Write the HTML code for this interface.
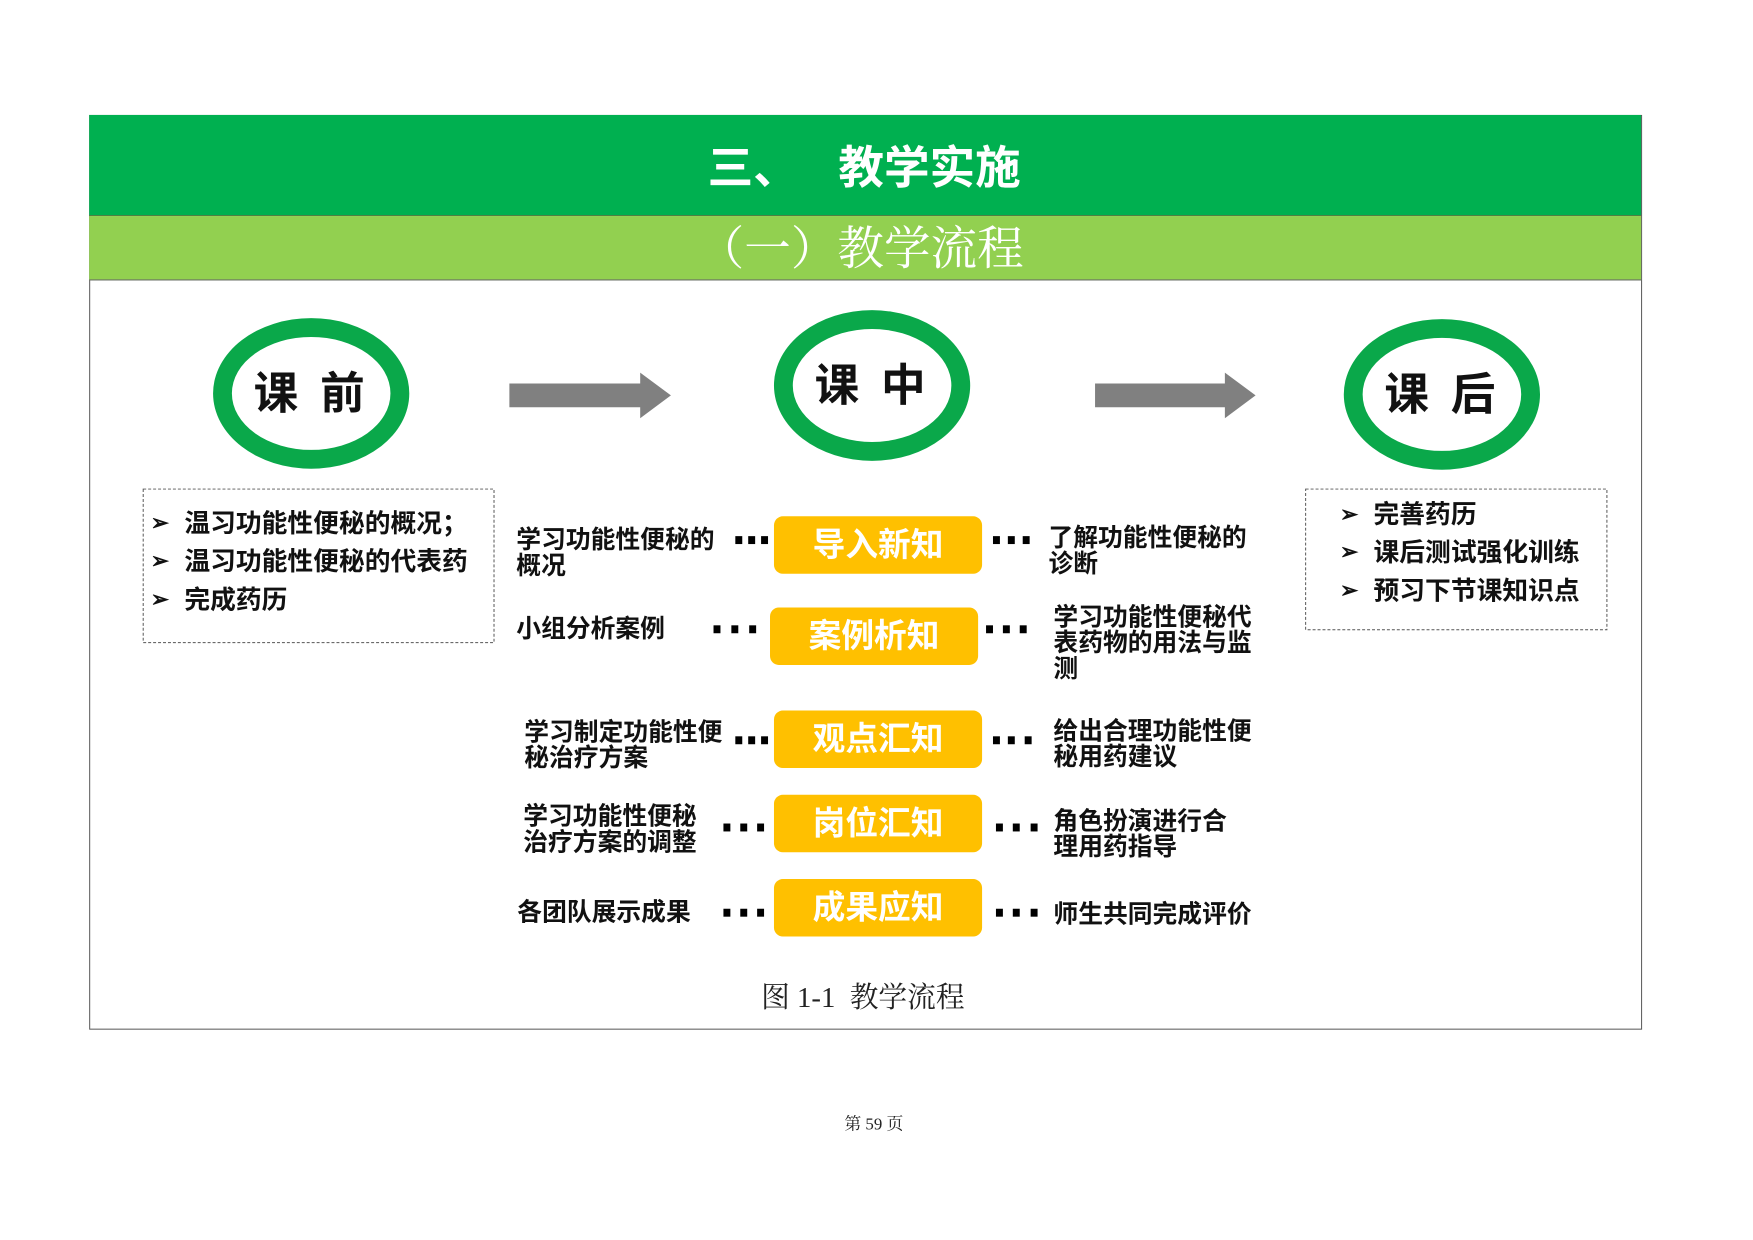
<!DOCTYPE html>
<html><head><meta charset="utf-8"><style>
body{margin:0;width:1753px;height:1240px;background:#fff;position:relative;overflow:hidden;font-family:"Liberation Sans","Noto Sans CJK SC",sans-serif;}
#w{position:absolute;left:0;top:0;width:1753px;height:1240px;transform:scale(0.991);transform-origin:0 0;}
.a{position:absolute;}
.t{position:absolute;white-space:nowrap;font-weight:bold;color:#111;font-size:25px;line-height:26px;}
.yb{position:absolute;width:210px;height:58px;background:#ffc000;border-radius:9px;color:#fff;font-weight:bold;font-size:33px;line-height:58px;text-align:center;}
.dot{position:absolute;width:7px;height:8px;background:#000;}
.ring{position:absolute;width:160px;height:114px;border:19px solid #0aa84a;border-radius:50%;background:#fff;text-align:center;line-height:114px;font-weight:bold;font-size:45px;color:#111;letter-spacing:22px;text-indent:18px;}
</style></head><body><div id="w">
<div class="a" style="left:90px;top:116px;width:1565px;height:921px;border:1px solid #555;"></div>
<div class="a" style="left:90px;top:116px;width:1566px;height:101px;background:#00b050;"></div>
<div class="a" style="left:90px;top:217px;width:1566px;height:1px;background:#4a7a3a;"></div>
<div class="a" style="left:90px;top:218px;width:1566px;height:64px;background:#92d050;border-bottom:1px solid #666;"></div>
<div class="t" style="left:714px;top:142px;font-size:46px;line-height:54px;color:#fff;">三、</div>
<div class="t" style="left:846px;top:142px;font-size:46px;line-height:54px;color:#fff;">教学实施</div>
<div class="t" style="left:704px;top:225px;font-size:47px;line-height:54px;color:#fff;font-weight:normal;font-family:'Liberation Serif','Noto Serif CJK SC',serif;">（一）教学流程</div>

<div class="ring" style="left:215px;top:321px;">课前</div>
<div class="ring" style="left:781px;top:313px;">课中</div>
<div class="ring" style="left:1356px;top:322px;">课后</div>

<svg class="a" style="left:0;top:0" width="1753" height="1240">
<polygon points="514,387 646,387 646,376 677,399 646,422 646,411 514,411" fill="#808080"/>
<polygon points="1105,387 1236,387 1236,376 1267,399 1236,422 1236,411 1105,411" fill="#808080"/>
<rect x="144.5" y="493.5" width="354" height="155" fill="none" stroke="#555" stroke-dasharray="3,2"/>
<rect x="1317.5" y="493.5" width="304" height="142" fill="none" stroke="#555" stroke-dasharray="3,2"/>
</svg>

<div class="t" style="left:152px;top:515px;font-size:22px;">➢</div><div class="t" style="left:186px;top:515px;font-size:26px;">温习功能性便秘的概况；</div>
<div class="t" style="left:152px;top:553px;font-size:22px;">➢</div><div class="t" style="left:186px;top:553px;font-size:26px;">温习功能性便秘的代表药</div>
<div class="t" style="left:152px;top:592px;font-size:22px;">➢</div><div class="t" style="left:186px;top:592px;font-size:26px;">完成药历</div>

<div class="t" style="left:1352px;top:506px;font-size:22px;">➢</div><div class="t" style="left:1386px;top:506px;font-size:26px;">完善药历</div>
<div class="t" style="left:1352px;top:544px;font-size:22px;">➢</div><div class="t" style="left:1386px;top:544px;font-size:26px;">课后测试强化训练</div>
<div class="t" style="left:1352px;top:583px;font-size:22px;">➢</div><div class="t" style="left:1386px;top:583px;font-size:26px;">预习下节课知识点</div>

<div class="yb" style="left:781px;top:521px;">导入新知</div>
<div class="yb" style="left:777px;top:613px;">案例析知</div>
<div class="yb" style="left:781px;top:717px;">观点汇知</div>
<div class="yb" style="left:781px;top:802px;">岗位汇知</div>
<div class="yb" style="left:781px;top:887px;">成果应知</div>

<div class="dot" style="left:742px;top:541px"></div><div class="dot" style="left:755px;top:541px"></div><div class="dot" style="left:768px;top:541px"></div>
<div class="dot" style="left:1002px;top:541px"></div><div class="dot" style="left:1017px;top:541px"></div><div class="dot" style="left:1032px;top:541px"></div>
<div class="dot" style="left:720px;top:631px"></div><div class="dot" style="left:738px;top:631px"></div><div class="dot" style="left:756px;top:631px"></div>
<div class="dot" style="left:995px;top:631px"></div><div class="dot" style="left:1012px;top:631px"></div><div class="dot" style="left:1029px;top:631px"></div>
<div class="dot" style="left:742px;top:743px"></div><div class="dot" style="left:755px;top:743px"></div><div class="dot" style="left:768px;top:743px"></div>
<div class="dot" style="left:1002px;top:743px"></div><div class="dot" style="left:1017px;top:743px"></div><div class="dot" style="left:1034px;top:743px"></div>
<div class="dot" style="left:730px;top:831px"></div><div class="dot" style="left:747px;top:831px"></div><div class="dot" style="left:764px;top:831px"></div>
<div class="dot" style="left:1005px;top:831px"></div><div class="dot" style="left:1022px;top:831px"></div><div class="dot" style="left:1040px;top:831px"></div>
<div class="dot" style="left:730px;top:917px"></div><div class="dot" style="left:747px;top:917px"></div><div class="dot" style="left:764px;top:917px"></div>
<div class="dot" style="left:1005px;top:917px"></div><div class="dot" style="left:1022px;top:917px"></div><div class="dot" style="left:1040px;top:917px"></div>

<div class="t" style="left:521px;top:532px;">学习功能性便秘的<br>概况</div>
<div class="t" style="left:521px;top:622px;">小组分析案例</div>
<div class="t" style="left:529px;top:726px;">学习制定功能性便<br>秘治疗方案</div>
<div class="t" style="left:528px;top:811px;">学习功能性便秘<br>治疗方案的调整</div>
<div class="t" style="left:522px;top:908px;">各团队展示成果</div>

<div class="t" style="left:1058px;top:530px;">了解功能性便秘的<br>诊断</div>
<div class="t" style="left:1063px;top:610px;">学习功能性便秘代<br>表药物的用法与监<br>测</div>
<div class="t" style="left:1063px;top:725px;">给出合理功能性便<br>秘用药建议</div>
<div class="t" style="left:1063px;top:816px;">角色扮演进行合<br>理用药指导</div>
<div class="t" style="left:1063px;top:910px;">师生共同完成评价</div>

<div class="t" style="left:768px;top:990px;font-weight:normal;font-size:29px;line-height:34px;color:#222;font-family:'Liberation Serif','Noto Serif CJK SC',serif;">图 1-1 &nbsp;教学流程</div>
<div class="t" style="left:852px;top:1124px;font-weight:normal;font-size:17px;line-height:22px;color:#222;font-family:'Liberation Serif','Noto Serif CJK SC',serif;">第 59 页</div>
</div></body></html>
